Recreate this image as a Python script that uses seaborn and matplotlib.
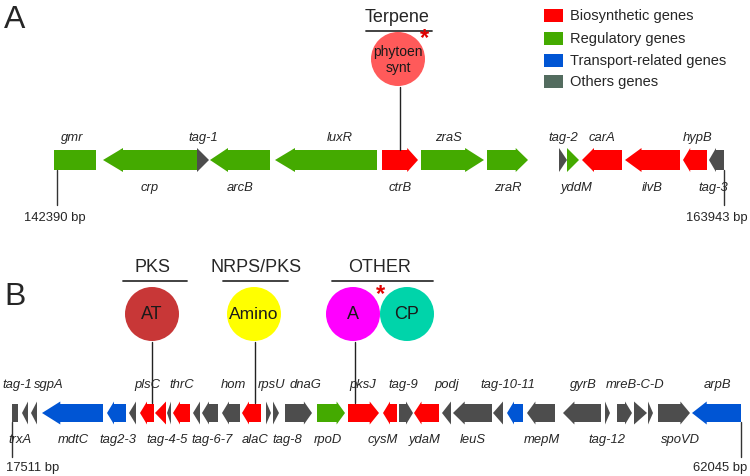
# Gene neighbourhood maps for two biosynthetic gene clusters (panels A and B).
# Positions are in map units along each contig drawing.

import matplotlib
matplotlib.use("Agg")
import matplotlib.pyplot as plt
from matplotlib.patches import Circle, Rectangle
import seaborn as sns

# ---- data: panel A ----
a_names = ["gmr", "crp", "tag-1", "arcB", "luxR", "ctrB", "zraS", "zraR",
           "tag-2", "yddM", "carA", "ilvB", "hypB", "tag-3"]
a_start = [54, 103, 197, 210, 275, 382, 421, 487, 559, 567, 582, 625, 683, 709]
a_end = [96, 197, 209, 270, 377, 418, 484, 528, 567, 579, 622, 680, 707, 724]
a_strand = [0, -1, 1, -1, -1, 1, 1, 1, 1, 1, -1, -1, -1, -1]
a_cat = ["reg", "reg", "oth", "reg", "reg", "bio", "reg", "reg",
         "oth", "reg", "bio", "bio", "bio", "oth"]
a_label_side = ["up", "down", "up", "down", "up", "down", "up", "down",
                "up", "down", "up", "down", "up", "down"]
a_bounds = ["142390 bp", "163943 bp"]

# ---- data: panel B ----
b_start = [12, 22, 31, 42, 107, 129, 140, 155, 167, 173, 193, 202, 222, 242,
           266, 273, 285, 317, 348, 383, 399, 414, 442, 453, 493, 507, 527,
           563, 605, 617, 634, 648, 658, 692]
b_end = [18, 28, 37, 103, 126, 136, 154, 166, 171, 190, 200, 218, 240, 261,
         271, 279, 312, 345, 379, 397, 413, 439, 451, 492, 503, 523, 555,
         601, 610, 632, 647, 653, 690, 741]
b_strand = [0, -1, -1, -1, -1, -1, -1, -1, -1, -1, -1, -1, -1, -1,
            1, 1, 1, 1, 1, -1, 1, -1, -1, -1, -1, -1, -1,
            -1, 1, 1, 1, 1, 1, -1]
b_cat = ["oth", "oth", "oth", "tra", "tra", "oth", "bio", "bio", "oth", "bio",
         "oth", "oth", "oth", "bio", "oth", "oth", "oth", "reg", "bio", "bio",
         "oth", "bio", "oth", "oth", "oth", "tra", "oth", "oth", "oth", "oth",
         "oth", "oth", "oth", "tra"]
b_labels_up = ["tag-1", "sgpA", "plsC", "thrC", "hom", "rpsU", "dnaG", "pksJ",
               "tag-9", "podj", "tag-10-11", "gyrB", "mreB-C-D", "arpB"]
b_labels_up_x = [17, 49, 147, 182, 233, 272, 305, 363, 403, 447, 508, 583, 635, 717]
b_labels_down = ["trxA", "mdtC", "tag2-3", "tag-4-5", "tag-6-7", "alaC", "tag-8",
                 "rpoD", "cysM", "ydaM", "leuS", "mepM", "tag-12", "spoVD"]
b_labels_down_x = [20, 73, 118, 167, 212, 255, 287, 328, 383, 425, 473, 542, 607, 680]
b_bounds = ["17511 bp", "62045 bp"]

# ---- data: domain hits ----
cluster_titles = ["Terpene", "PKS", "NRPS/PKS", "OTHER"]
domain_labels = ["phytoen\nsynt", "AT", "Amino", "A", "CP"]

categories = ["bio", "reg", "tra", "oth"]
category_names = ["Biosynthetic genes", "Regulatory genes",
                  "Transport-related genes", "Others genes"]

# ---- styles ----
gene_colors = {"bio": "#ff0000", "reg": "#44aa00", "tra": "#0055d4", "oth": "#4d4d4d"}
legend_colors = {"bio": "#ff0000", "reg": "#44aa00", "tra": "#0055d4", "oth": "#536c5f"}
domain_colors = ["#ff5a5a", "#c83737", "#ffff00", "#ff00ff", "#00d4aa"]
GENE_FS = 9.4

sns.set_theme(style="white")
plt.rcParams["font.family"] = ["Liberation Sans", "DejaVu Sans"]

fig = plt.figure(figsize=(7.5, 4.77), dpi=100)
ax = fig.add_axes([0, 0, 1, 1])
ax.set_xlim(0, 750)
ax.set_ylim(477, 0)
ax.axis("off")


def draw_gene(x0, x1, strand, yc, color, body=9.5, head=12.0):
    length = x1 - x0
    if strand == 0:
        ax.fill([x0, x1, x1, x0], [yc - body, yc - body, yc + body, yc + body],
                color=color, lw=0)
        return
    if length <= 13:
        hl = length
    else:
        hl = min(max(0.3 * length, 7), 20)
    if strand > 0:
        xs = [x0, x1 - hl, x1 - hl, x1, x1 - hl, x1 - hl, x0]
    else:
        xs = [x1, x0 + hl, x0 + hl, x0, x0 + hl, x0 + hl, x1]
    ys = [yc - body, yc - body, yc - head, yc, yc + head, yc + body, yc + body]
    ax.fill(xs, ys, color=color, lw=0)


# ---- panel A ----
ya = 161
for s, e, st, c in zip(a_start, a_end, a_strand, a_cat):
    draw_gene(s, e, st, ya, gene_colors[c], body=10, head=12)

label_shift = {"luxR": 14, "gmr": -3, "zraS": -4, "yddM": 4, "hypB": 3, "tag-3": -3}
for name, s, e, side in zip(a_names, a_start, a_end, a_label_side):
    xc = (s + e) / 2 + label_shift.get(name, 0)
    yy = 138 if side == "up" else 188
    ax.text(xc, yy, name, ha="center", va="center", fontsize=GENE_FS, style="italic")

for xb, lab, xt in [(a_start[0] + 3, a_bounds[0], 55), (a_end[-1], a_bounds[1], 717)]:
    ax.plot([xb, xb], [171, 206], color="#333333", lw=1)
    ax.text(xt, 218, lab, ha="center", va="center", fontsize=GENE_FS)

# ---- panel B ----
yb = 414
for s, e, st, c in zip(b_start, b_end, b_strand, b_cat):
    draw_gene(s, e, st, yb, gene_colors[c], body=9, head=11.5)

for lab, xx in zip(b_labels_up, b_labels_up_x):
    ax.text(xx, 385, lab, ha="center", va="center", fontsize=GENE_FS, style="italic")
for lab, xx in zip(b_labels_down, b_labels_down_x):
    ax.text(xx, 440, lab, ha="center", va="center", fontsize=GENE_FS, style="italic")

for xb, lab, xt in [(b_start[0], b_bounds[0], 33), (b_end[-1], b_bounds[1], 720)]:
    ax.plot([xb, xb], [423, 458], color="#333333", lw=1)
    ax.text(xt, 468, lab, ha="center", va="center", fontsize=GENE_FS)

# ---- cluster titles and domain circles ----
title_x = [397, 153, 256, 380]
title_y = [18, 268, 268, 268]
rule_span = [(366, 432), (123, 187), (223, 288), (332, 433)]
for t, tx, ty, (r0, r1) in zip(cluster_titles, title_x, title_y, rule_span):
    ax.text(tx, ty, t, ha="center", va="center", fontsize=13)
    ax.plot([r0, r1], [ty + 14, ty + 14], color="#333333", lw=1.3)

circ_x = [398, 152, 254, 353, 407]
circ_y = [60, 315, 315, 315, 315]
circ_fs = [10, 13, 12.5, 13, 13]
for lab, cx, cy, col, fs in zip(domain_labels, circ_x, circ_y, domain_colors, circ_fs):
    ax.add_patch(Circle((cx, cy), 27, color=col, lw=0))
    ax.text(cx, cy, lab, ha="center", va="center", fontsize=fs,
            linespacing=1.25, color="#1a1a1a")

# connectors from domain circles to their genes
for cx, cy, gy in [(400, 60, 151), (152, 315, 404), (255, 315, 404), (355, 315, 404)]:
    ax.plot([cx, cx], [cy + 28, gy], color="#222222", lw=1)

ax.text(424, 39, "*", ha="center", va="center", fontsize=17, color="#e00000",
        fontweight="bold")
ax.text(380, 295, "*", ha="center", va="center", fontsize=17, color="#e00000",
        fontweight="bold")

# ---- panel letters ----
ax.text(15, 20, "A", ha="center", va="center", fontsize=23)
ax.text(15, 297, "B", ha="center", va="center", fontsize=23)

# ---- legend ----
for i, (c, nm) in enumerate(zip(categories, category_names)):
    yy = [16, 39, 61, 82][i]
    ax.add_patch(Rectangle((544, yy - 6.5), 19, 13, color=legend_colors[c], lw=0))
    ax.text(570, yy, nm, ha="left", va="center", fontsize=10.5)

fig.savefig("out.png", dpi=100)
